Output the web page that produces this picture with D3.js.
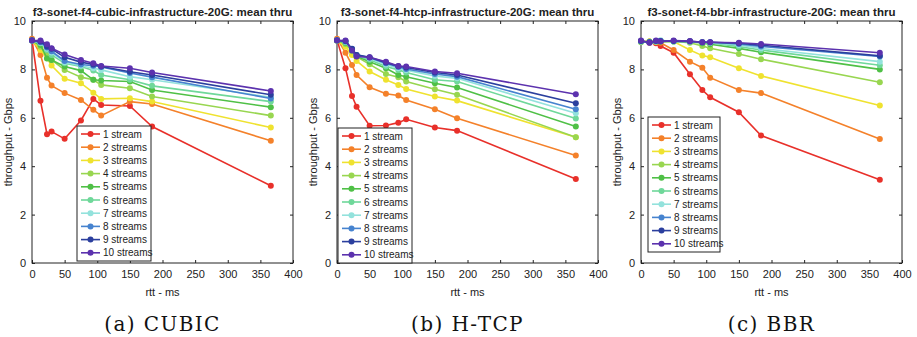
<!DOCTYPE html>
<html>
<head>
<meta charset="utf-8">
<script src="https://cdn.jsdelivr.net/npm/d3@7"></script>
<style>
  body { margin: 0; background: #fff; }
  text { font-family: "Liberation Sans", Arial, sans-serif; fill: #222; }
  .title { font-weight: bold; font-size: 11.5px; }
  .lab { font-size: 11px; }
  .leg { font-size: 10px; }
  .cap { font-family: "DejaVu Serif", "Liberation Serif", serif; font-size: 20px; letter-spacing: 1.4px; fill: #111; }
</style>
</head>
<body>
<svg id="chart" width="917" height="337"></svg>
<script>
// rtt in ms, same for every run
var rtt = [0, 13, 23, 30, 50, 75, 94, 106, 150, 184, 366];

var streamNames = ["1 stream", "2 streams", "3 streams", "4 streams", "5 streams",
  "6 streams", "7 streams", "8 streams", "9 streams", "10 streams"];

var colors = ["#e8302a", "#f4812a", "#efe22f", "#98d650", "#4fc046",
  "#6fd89a", "#93e2dc", "#4683cf", "#2b3f9e", "#5c32ae"];

var xTicks = [0, 50, 100, 150, 200, 250, 300, 350, 400];
var yTicks = [0, 2, 4, 6, 8, 10];

// mean thru, Gbps, one row per stream count
var cubic = [
  [9.22, 6.70, 5.32, 5.43, 5.13, 5.89, 6.78, 6.53, 6.49, 5.64, 3.19],
  [9.27, 8.60, 7.66, 7.33, 7.02, 6.74, 6.33, 6.09, 6.67, 6.57, 5.05],
  [9.19, 8.80, 8.46, 8.16, 7.61, 7.43, 7.04, 6.78, 6.81, 6.67, 5.60],
  [9.19, 8.94, 8.67, 8.39, 7.98, 7.68, 7.57, 7.36, 7.22, 6.88, 6.09],
  [9.19, 9.01, 8.45, 8.39, 8.12, 7.95, 7.57, 7.54, 7.50, 7.15, 6.44],
  [9.19, 9.08, 8.80, 8.60, 8.25, 8.12, 7.95, 7.77, 7.57, 7.32, 6.67],
  [9.19, 9.10, 8.85, 8.70, 8.30, 8.15, 8.05, 7.98, 7.70, 7.57, 6.85],
  [9.19, 9.12, 8.90, 8.75, 8.35, 8.20, 8.15, 8.10, 7.85, 7.68, 6.80],
  [9.20, 9.15, 8.95, 8.85, 8.50, 8.30, 8.20, 8.12, 7.90, 7.77, 6.95],
  [9.19, 9.19, 9.04, 8.87, 8.62, 8.39, 8.25, 8.14, 8.05, 7.87, 7.11]
];

var htcp = [
  [9.22, 8.05, 6.90, 6.46, 5.67, 5.68, 5.80, 5.94, 5.60, 5.47, 3.47],
  [9.27, 8.69, 8.18, 7.77, 7.26, 6.99, 6.92, 6.74, 6.35, 5.98, 4.44],
  [9.19, 8.94, 8.60, 8.35, 7.91, 7.57, 7.36, 7.19, 6.88, 6.71, 5.20],
  [9.19, 9.05, 8.75, 8.53, 8.21, 7.81, 7.68, 7.50, 7.18, 6.95, 5.20],
  [9.19, 9.10, 8.80, 8.55, 8.32, 8.05, 7.77, 7.70, 7.43, 7.25, 5.64],
  [9.19, 9.12, 8.82, 8.57, 8.40, 8.12, 7.98, 7.87, 7.57, 7.50, 5.97],
  [9.20, 9.14, 8.83, 8.58, 8.45, 8.20, 8.05, 7.97, 7.73, 7.63, 6.19],
  [9.20, 9.15, 8.84, 8.60, 8.48, 8.25, 8.10, 8.02, 7.81, 7.70, 6.35],
  [9.20, 9.17, 8.85, 8.60, 8.50, 8.28, 8.13, 8.08, 7.87, 7.77, 6.60],
  [9.19, 9.19, 8.78, 8.53, 8.50, 8.32, 8.14, 8.12, 7.91, 7.84, 6.97]
];

var bbr = [
  [9.15, 9.10, 9.08, 8.97, 8.69, 7.80, 7.15, 6.85, 6.23, 5.27, 3.44],
  [9.15, 9.15, 9.12, 9.10, 8.80, 8.32, 8.07, 7.66, 7.15, 7.02, 5.12],
  [9.15, 9.15, 9.15, 9.15, 9.15, 8.80, 8.57, 8.50, 8.05, 7.73, 6.51],
  [9.12, 9.15, 9.15, 9.15, 9.15, 9.10, 8.97, 8.87, 8.64, 8.42, 7.47],
  [9.15, 9.12, 9.15, 9.15, 9.15, 9.15, 9.08, 9.04, 8.87, 8.71, 8.00],
  [9.15, 9.12, 9.15, 9.17, 9.15, 9.15, 9.12, 9.10, 8.94, 8.80, 8.17],
  [9.15, 9.12, 9.15, 9.20, 9.15, 9.15, 9.12, 9.10, 9.01, 8.87, 8.32],
  [9.17, 9.12, 9.17, 9.17, 9.17, 9.15, 9.12, 9.12, 9.05, 8.95, 8.53],
  [9.17, 9.12, 9.17, 9.17, 9.17, 9.16, 9.12, 9.12, 9.08, 9.00, 8.56],
  [9.19, 9.10, 9.19, 9.15, 9.19, 9.17, 9.12, 9.12, 9.10, 9.05, 8.69]
];

var panels = [
  {title: "f3-sonet-f4-cubic-infrastructure-20G: mean thru", cap: "(a) CUBIC", data: cubic, left: 32, leg: [77, 126, 74]},
  {title: "f3-sonet-f4-htcp-infrastructure-20G: mean thru", cap: "(b) H-TCP", data: htcp, left: 337, leg: [338, 128, 74]},
  {title: "f3-sonet-f4-bbr-infrastructure-20G: mean thru", cap: "(c) BBR", data: bbr, left: 641, leg: [648, 117, 72]}
];

var plotW = 261, plotTop = 21, plotH = 242;
var svg = d3.select("#chart");

panels.forEach(function(p) {
  var x = d3.scaleLinear().domain([0, 400]).range([0, plotW]);
  var y = d3.scaleLinear().domain([0, 10]).range([plotH, 0]);
  var g = svg.append("g").attr("transform", "translate(" + p.left + "," + plotTop + ")");

  g.append("rect").attr("width", plotW).attr("height", plotH)
    .attr("fill", "none").attr("stroke", "#222").attr("stroke-width", 1);

  // matlab style ticks on all 4 sides, pointing inwards
  var tickLen = 3;
  var style = function(a) {
    a.select(".domain").remove();
    a.selectAll("line").attr("stroke", "#222");
    a.selectAll("text").attr("font-size", 11).attr("fill", "#222")
      .attr("font-family", "'Liberation Sans', Arial, sans-serif");
  };
  g.append("g").attr("transform", "translate(0," + plotH + ")")
    .call(d3.axisBottom(x).tickValues(xTicks).tickSizeInner(-tickLen).tickSizeOuter(0).tickPadding(7))
    .call(style);
  g.append("g")
    .call(d3.axisLeft(y).tickValues(yTicks).tickSizeInner(-tickLen).tickSizeOuter(0).tickPadding(6))
    .call(style);
  g.append("g")
    .call(d3.axisTop(x).tickValues(xTicks).tickSizeInner(-tickLen).tickSizeOuter(0).tickFormat(""))
    .call(style);
  g.append("g").attr("transform", "translate(" + plotW + ",0)")
    .call(d3.axisRight(y).tickValues(yTicks).tickSizeInner(-tickLen).tickSizeOuter(0).tickFormat(""))
    .call(style);

  g.append("text").attr("class", "title").attr("x", plotW / 2).attr("y", -5)
    .attr("text-anchor", "middle").text(p.title);
  g.append("text").attr("class", "lab").attr("x", plotW / 2).attr("y", plotH + 33)
    .attr("text-anchor", "middle").text("rtt - ms");
  g.append("text").attr("class", "lab")
    .attr("transform", "translate(-20," + (plotH / 2) + ") rotate(-90)")
    .attr("text-anchor", "middle").text("throughput - Gbps");

  var line = d3.line().x(function(d, i) { return x(rtt[i]); }).y(function(d) { return y(d); });

  p.data.forEach(function(series, k) {
    g.append("path").datum(series).attr("d", line)
      .attr("fill", "none").attr("stroke", colors[k]).attr("stroke-width", 1.6);
    g.selectAll(null).data(series).enter().append("circle")
      .attr("cx", function(d, i) { return x(rtt[i]); })
      .attr("cy", function(d) { return y(d); })
      .attr("r", 3).attr("fill", colors[k]);
  });

  // legend box
  var lx = p.leg[0] - p.left, ly = p.leg[1] - plotTop, lw = p.leg[2];
  var rowH = 13.2;
  var lg = g.append("g").attr("transform", "translate(" + lx + "," + ly + ")");
  lg.append("rect").attr("width", lw).attr("height", rowH * 10 + 3)
    .attr("fill", "#fff").attr("stroke", "#222").attr("stroke-width", 1);
  streamNames.forEach(function(name, k) {
    var cy = 8 + k * rowH;
    lg.append("line").attr("x1", 4).attr("x2", 23).attr("y1", cy).attr("y2", cy)
      .attr("stroke", colors[k]).attr("stroke-width", 1.6);
    lg.append("circle").attr("cx", 13.5).attr("cy", cy).attr("r", 3).attr("fill", colors[k]);
    lg.append("text").attr("class", "leg").attr("x", 26).attr("y", cy + 3.5).text(name);
  });

  svg.append("text").attr("class", "cap").attr("x", p.left + plotW / 2).attr("y", 331)
    .attr("text-anchor", "middle").text(p.cap);
});
</script>
</body>
</html>
